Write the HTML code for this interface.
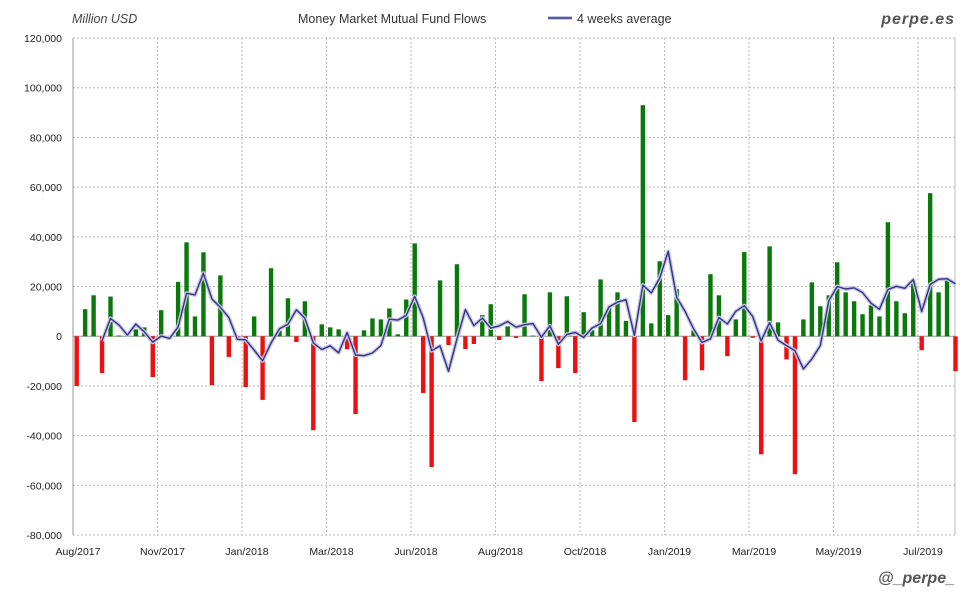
<!DOCTYPE html>
<html><head><meta charset="utf-8"><style>
body{margin:0;background:#fff;width:980px;height:600px;overflow:hidden}
svg{display:block}
text{font-family:"Liberation Sans",sans-serif}
</style></head><body>
<svg id="c" width="980" height="600" xmlns="http://www.w3.org/2000/svg">
<text x="72" y="23" font-size="12.5" font-style="italic" fill="#444">Million USD</text>
<text x="298" y="23" font-size="12.5" fill="#333">Money Market Mutual Fund Flows</text>
<line x1="548" y1="18" x2="572" y2="18" stroke="#c8c8e4" stroke-width="4"/>
<line x1="548" y1="18" x2="572" y2="18" stroke="#333388" stroke-width="1.5"/>
<text x="577" y="23" font-size="12.5" fill="#333">4 weeks average</text>
<text x="955" y="24" font-size="16" font-weight="bold" font-style="italic" fill="#555" text-anchor="end" font-family="Liberation Mono" letter-spacing="1">perpe.es</text>
<text x="955" y="583" font-size="16" font-weight="bold" font-style="italic" fill="#555" text-anchor="end" font-family="Liberation Mono">@_perpe_</text>
<g id="g"></g>
</svg>
<script>
var v=[-20000,10900,16500,-14800,16000,300,500,2800,3600,-16400,10500,-1000,21900,37800,8000,33800,-19600,24500,-8300,-1500,-20400,8000,-25600,27400,2200,15300,-2300,14100,-37800,4800,3600,2800,-5200,-31300,
2400,7200,6800,11200,800,14800,37400,-22800,-52600,22500,-3500,29000,-5100,-3100,8500,12900,-1500,4000,-700,16900,300,-18000,17700,-12800,16100,-14800,9700,2400,22900,12100,17700,6200,-34500,93000,5200,30200,8500,
19000,-17700,2400,-13700,25000,16500,-8000,6800,33900,-600,-47500,36200,5600,-9300,-55500,6800,21700,12100,16500,29800,17700,14100,8900,12500,8000,45900,14100,9300,22000,-5600,57600,17700,23000,-14000];
var g=document.getElementById('g'),s='';
function Y(val){return 336.3-val*49.7/20000;}
var L=73,R=955,T=38,B=535;
for(var k=0;k<=10;k++){var y=T+k*49.7;var val=120000-k*20000;
 s+='<line x1="'+L+'" x2="'+R+'" y1="'+y+'" y2="'+y+'" stroke="#b8b8b8" stroke-dasharray="2,2"/>';
 s+='<text x="62" y="'+(y+4)+'" font-size="10.5" fill="#222" text-anchor="end">'+val.toLocaleString('en-US')+'</text>';}
var lab=['Aug/2017','Nov/2017','Jan/2018','Mar/2018','Jun/2018','Aug/2018','Oct/2018','Jan/2019','Mar/2019','May/2019','Jul/2019'];
for(var k=0;k<lab.length;k++){var x=L+k*84.5;
 if(k>0)s+='<line x1="'+x+'" x2="'+x+'" y1="'+T+'" y2="'+B+'" stroke="#b8b8b8" stroke-dasharray="2,2"/>';
 s+='<text x="'+(x+5)+'" y="555" font-size="10.5" fill="#222" text-anchor="middle">'+lab[k]+'</text>';}
s+='<line x1="'+L+'" x2="'+L+'" y1="'+T+'" y2="'+B+'" stroke="#999"/>';
s+='<line x1="'+R+'" x2="'+R+'" y1="'+T+'" y2="'+B+'" stroke="#bbb"/>';
s+='<line x1="'+L+'" x2="'+R+'" y1="336.3" y2="336.3" stroke="#999"/>';
var pts=[];
for(var i=0;i<v.length;i++){var cx=76.7+8.45*i,y0=Y(0),y1=Y(v[i]);
 s+='<rect x="'+(cx-2.2)+'" y="'+Math.min(y0,y1)+'" width="4.4" height="'+Math.max(Math.abs(y1-y0),0.8)+'" fill="'+(v[i]>=0?'#0a780a':'#ee1010')+'"/>';
 if(i>=3){var a=(v[i]+v[i-1]+v[i-2]+v[i-3])/4;pts.push(cx.toFixed(1)+','+Y(a).toFixed(1));}}
s+='<polyline points="'+pts.join(' ')+'" fill="none" stroke="#c8c8e4" stroke-width="4" stroke-linejoin="round"/>';
s+='<polyline points="'+pts.join(' ')+'" fill="none" stroke="#333388" stroke-width="1.4" stroke-linejoin="round"/>';
g.innerHTML=s;
</script>
</body></html>
